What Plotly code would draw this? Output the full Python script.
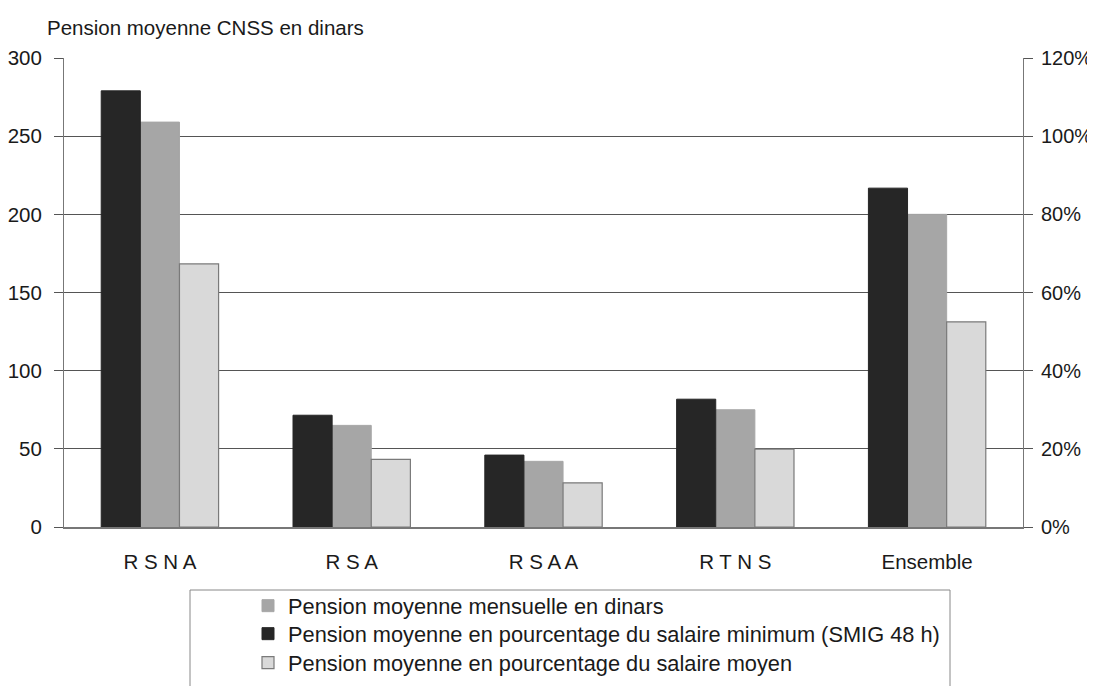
import plotly.graph_objects as go

categories = ["R S N A", "R S A", "R S A A", "R T N S", "Ensemble"]
pension_dinars = [259, 65, 42, 75, 200]
pct_smig = [1.116, 0.286, 0.184, 0.327, 0.867]
pct_salaire_moyen = [0.673, 0.173, 0.113, 0.199, 0.525]
left_ticks = [0, 50, 100, 150, 200, 250, 300]
right_ticks = [0, 0.2, 0.4, 0.6, 0.8, 1.0, 1.2]

FONT = "Liberation Sans, Arial, sans-serif"
W = 0.204

# page offset (body margin) and plot area in screenshot pixels
OFF = 8
PL, PR, PT, PB = 64, 1023, 58, 527
FW, FH = 1095, 686


def px(x):
    return (x - PL) / (PR - PL)


def py(y):
    return (PB - y) / (PB - PT)


fig = go.Figure()
fig.add_trace(go.Bar(
    x=categories, y=pct_smig, yaxis="y2", width=W, offset=-1.5 * W,
    name="Pension moyenne en pourcentage du salaire minimum (SMIG 48 h)",
    marker=dict(color="#262626", line=dict(color="#262626", width=1)),
    legend="legend2",
))
fig.add_trace(go.Bar(
    x=categories, y=pension_dinars, yaxis="y", width=W, offset=-0.5 * W,
    name="Pension moyenne mensuelle en dinars",
    marker=dict(color="#a6a6a6", line=dict(color="#a6a6a6", width=1)),
    legend="legend",
))
fig.add_trace(go.Bar(
    x=categories, y=pct_salaire_moyen, yaxis="y2", width=W, offset=0.5 * W,
    name="Pension moyenne en pourcentage du salaire moyen",
    marker=dict(color="#d9d9d9", line=dict(color="#7a7a7a", width=1.2)),
    legend="legend3",
))


def leg(top):
    return dict(
        x=px(248), y=py(top), xanchor="left", yanchor="top",
        orientation="v", bgcolor="rgba(0,0,0,0)", borderwidth=0,
        font=dict(size=21.8, color="#1a1a1a"), itemwidth=30,
    )


fig.update_layout(
    width=FW, height=FH,
    margin=dict(l=PL - OFF, r=FW - (PR - OFF), t=PT - OFF, b=FH - (PB - OFF),
                autoexpand=False),
    paper_bgcolor="white", plot_bgcolor="white",
    font=dict(family=FONT, size=20, color="#1a1a1a"),
    showlegend=True,
    barmode="overlay",
    xaxis=dict(
        type="category", showline=True, linecolor="#777", linewidth=1.5,
        showgrid=False, ticks="", tickfont=dict(size=20.5),
        ticklabelstandoff=16,
    ),
    yaxis=dict(
        range=[0, 300], tickvals=left_ticks, showline=True, linecolor="#777",
        linewidth=1, showgrid=True, gridcolor="#555", gridwidth=1,
        ticks="outside", ticklen=9, tickcolor="#555", zeroline=False,
        ticklabelstandoff=8, tickfont=dict(size=20.5),
    ),
    yaxis2=dict(
        range=[0, 1.2], tickvals=right_ticks, tickformat=".0%",
        overlaying="y", side="right", showline=True, linecolor="#777",
        linewidth=1, showgrid=False, ticks="outside", ticklen=9,
        tickcolor="#555", zeroline=False, ticklabelstandoff=4,
        tickfont=dict(size=20),
    ),
    legend=leg(585),
    legend2=leg(613),
    legend3=leg(642),
    annotations=[dict(
        text="Pension moyenne CNSS en dinars", xref="paper", yref="paper",
        x=px(45), y=py(28), xanchor="left", yanchor="middle",
        showarrow=False, font=dict(size=20.5, color="#1a1a1a"),
    )],
    shapes=[dict(
        type="rect", xref="paper", yref="paper",
        x0=px(190), x1=px(950),
        y0=py(720), y1=py(590),
        line=dict(color="#888", width=1), fillcolor="rgba(0,0,0,0)",
    )],
)

fig.write_html("out.html")
